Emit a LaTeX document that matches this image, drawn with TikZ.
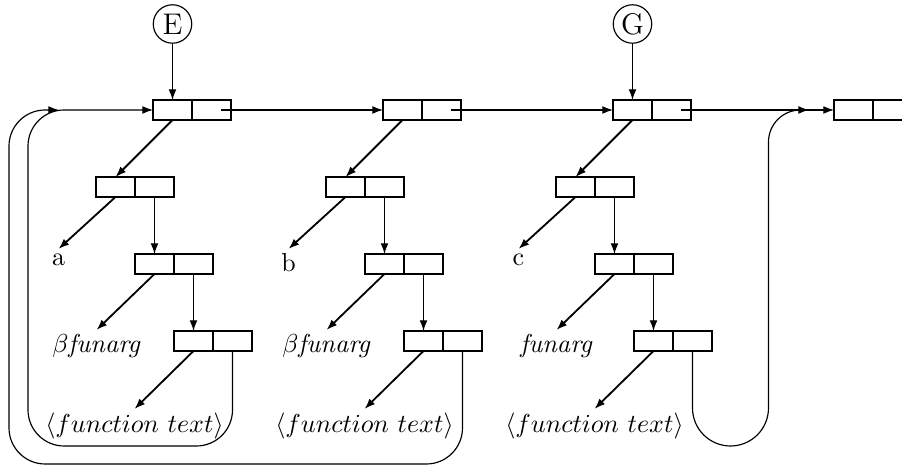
\documentclass[tikz,border=0pt]{standalone}
\usetikzlibrary{arrows.meta,calc}
\tikzset{
  cell/.style={draw, minimum width=15pt, minimum height=7.7pt, inner sep=0pt, outer sep=0pt},
  ptr/.style={-{Latex[length=4.1pt,width=3pt]}},
  slant/.style={ptr, line width=0.7pt},
  tag/.style={circle, draw, minimum size=14.8pt, inner sep=0pt,
              font=\fontsize{11.5}{12}\selectfont},
  lbl/.style={anchor=north, inner sep=1.5pt},
  loop/.style={ptr, rounded corners=13.9pt},
}
\begin{document}
\begin{tikzpicture}[x=0.385pt, y=-0.385pt, line width=0.45pt]
\useasboundingbox (0,0) rectangle (902,465);

% three association-list entries, each a chain of two-cell boxes
\foreach \g/\dx/\sym/\fa in {1/0/a/{$\beta$\textit{funarg}},
                             2/230/b/{$\beta$\textit{funarg}},
                             3/460/c/{\textit{funarg}}}{
  \node[cell] (T\g a) at (172.5+\dx,110) {};
  \node[cell] (T\g b) at (211.5+\dx,110) {};
  \node[cell] (A\g a) at (115.5+\dx,187) {};
  \node[cell] (A\g b) at (154.5+\dx,187) {};
  \node[cell] (B\g a) at (154.5+\dx,264) {};
  \node[cell] (B\g b) at (193.5+\dx,264) {};
  \node[cell] (C\g a) at (193.5+\dx,341) {};
  \node[cell] (C\g b) at (232.5+\dx,341) {};
  \node[lbl] (S\g) at (58.5+\dx,249) {\sym};
  \node[lbl] (F\g) at (96.5+\dx,330) {\fa};
  \node[lbl] (X\g) at (134.5+\dx,409) {$\langle function\ text\rangle$};
  \draw[slant] (T\g a.south) -- (A\g a.north);
  \draw[slant] (A\g a.south) -- (S\g.north);
  \draw[slant] (B\g a.south) -- (F\g.north);
  \draw[slant] (C\g a.south) -- (X\g.north);
  \draw[ptr] (A\g b.south) -- (B\g a.north);
  \draw[ptr] (B\g b.south) -- (C\g a.north);
}

% last box of the top chain
\node[cell] (T4a) at (853.5,110) {};
\node[cell] (T4b) at (892.5,110) {};

% environment pointers
\node[tag] (E) at (172.5,24) {E};
\node[tag] (G) at (632.5,24) {G};
\draw[ptr] (E) -- (T1a.north);
\draw[ptr] (G) -- (T3a.north);

% links along the top chain
\draw[ptr] ([xshift=3.66pt]T1b.center) -- (T2a.west);
\draw[ptr] ([xshift=3.66pt]T2b.center) -- (T3a.west);
\draw[ptr] ([xshift=3.66pt]T3b.center) -- (T4a.west);

% back pointers from the function cells
\coordinate (m) at (59,110);
\coordinate (n) at (809,110);
\draw[loop] (C1b.south) -- (232.5,446) -- (28,446) -- (28,110) -- (T1a.west);
\draw[loop] (C2b.south) -- (462.5,464) -- (9,464) -- (9,110) -- (m);
\draw[ptr] (C3b.south) -- (692.5,408) arc[start angle=180, end angle=0, radius=38]
  [rounded corners=12.3pt] -- (768.5,110) -- (n);
\end{tikzpicture}
\end{document}
